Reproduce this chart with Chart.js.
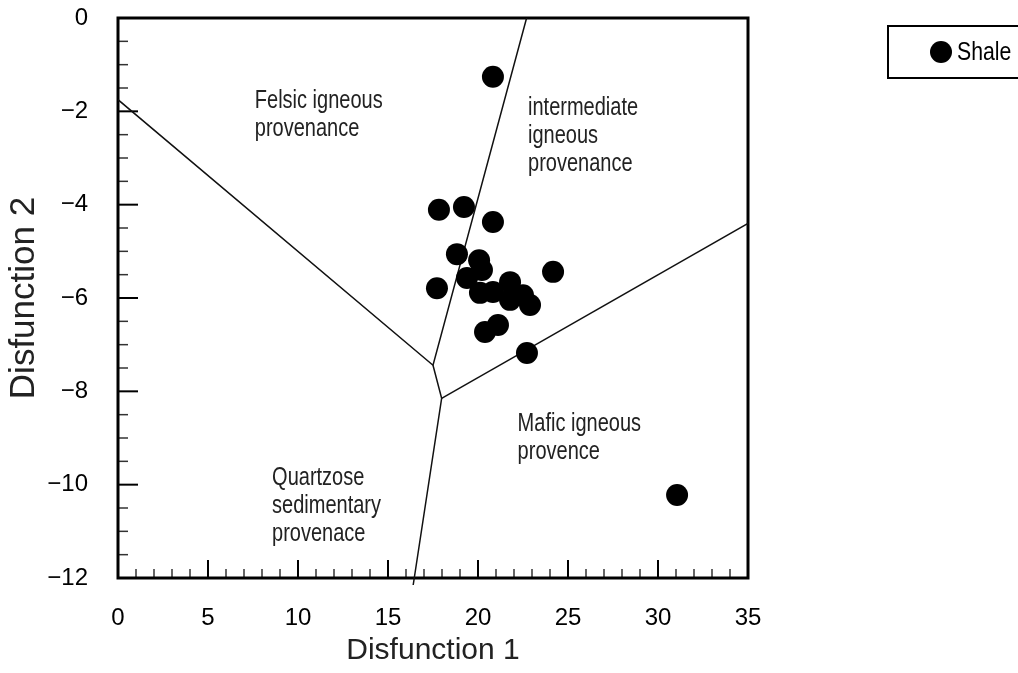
<!DOCTYPE html>
<html>
<head>
<meta charset="utf-8">
<script src="https://cdn.jsdelivr.net/npm/chart.js@4.4.0/dist/chart.umd.min.js"></script>
<style>
  html, body { margin: 0; padding: 0; background: #fff; }
  canvas { display: block; }
</style>
</head>
<body>
<canvas id="myChart" width="1018" height="673"></canvas>
<script>
Chart.defaults.font.family = '"Liberation Sans", Arial, Helvetica, sans-serif';
Chart.defaults.color = "#000";

// discriminant function scores of the shale samples
const shaleD1 = [20.83, 17.83, 19.22, 20.83, 18.83, 20.06, 20.22, 19.39, 17.72, 20.11,
                 20.83, 21.78, 21.78, 22.5, 22.89, 24.17, 20.39, 21.11, 22.72, 31.06];
const shaleD2 = [-1.26, -4.11, -4.05, -4.37, -5.06, -5.19, -5.4, -5.57, -5.79, -5.89,
                 -5.87, -5.66, -6.04, -5.94, -6.15, -5.44, -6.73, -6.58, -7.18, -10.22];

// field boundaries as [D1, D2] vertices
const boundaryFelsic = [[0, -1.75], [17.5, -7.44], [22.7, 0]];
const boundaryQuartz = [[17.5, -7.44], [17.98, -8.15], [16.4, -12.15]];
const boundaryMafic = [[17.98, -8.15], [35, -4.4]];

const xTicks = [0, 5, 10, 15, 20, 25, 30, 35];
const yTicks = [0, -2, -4, -6, -8, -10, -12];

// field names, anchored at the first baseline (D1, D2)
const fieldNames = [
  ["Felsic igneous", "provenance"],
  ["intermediate", "igneous", "provenance"],
  ["Mafic igneous", "provence"],
  ["Quartzose", "sedimentary", "provenace"],
];
const fieldX = [7.6, 22.78, 22.2, 8.56];
const fieldY = [-1.93, -2.08, -8.85, -10.0];

const FONT = '"Liberation Sans", Arial, Helvetica, sans-serif';

function boundary(pts, clip) {
  return {
    type: "line",
    data: pts.map(p => ({ x: p[0], y: p[1] })),
    showLine: true,
    borderColor: "#111",
    borderWidth: 1.5,
    pointRadius: 0,
    fill: false,
    tension: 0,
    clip: clip,
  };
}

const frame = {
  id: "frame",
  beforeDatasetsDraw(chart) {
    const { ctx, chartArea: a, scales: { x, y } } = chart;
    ctx.save();
    ctx.lineCap = "butt";

    // inward ticks on the bottom axis
    for (let v = 1; v < 35; v++) {
      const major = v % 5 === 0;
      const px = x.getPixelForValue(v);
      ctx.strokeStyle = major ? "#000" : "#333";
      ctx.lineWidth = major ? 2 : 1.5;
      ctx.beginPath();
      ctx.moveTo(px, a.bottom);
      ctx.lineTo(px, a.bottom - (major ? 18 : 9));
      ctx.stroke();
    }
    // inward ticks on the left axis
    for (let v = -11.5; v < 0; v += 0.5) {
      const major = v % 2 === 0;
      const py = y.getPixelForValue(v);
      ctx.strokeStyle = major ? "#000" : "#333";
      ctx.lineWidth = major ? 2 : 1.5;
      ctx.beginPath();
      ctx.moveTo(a.left, py);
      ctx.lineTo(a.left + (major ? 20 : 10), py);
      ctx.stroke();
    }

    ctx.strokeStyle = "#000";
    ctx.lineWidth = 3;
    ctx.strokeRect(a.left, a.top, a.right - a.left, a.bottom - a.top);

    // field names
    ctx.fillStyle = "#222";
    ctx.font = "25px " + FONT;
    ctx.textAlign = "left";
    ctx.textBaseline = "alphabetic";
    fieldNames.forEach((lines, i) => {
      const px = x.getPixelForValue(fieldX[i]);
      const py = y.getPixelForValue(fieldY[i]);
      lines.forEach((t, j) => {
        ctx.save();
        ctx.translate(px, py + j * 28);
        ctx.scale(0.8, 1);
        ctx.fillText(t, 0, 0);
        ctx.restore();
      });
    });
    ctx.restore();
  },
  afterDraw(chart) {
    const { ctx } = chart;
    const ds = chart.data.datasets[0];
    ctx.save();
    ctx.strokeStyle = "#000";
    ctx.lineWidth = 2;
    ctx.strokeRect(888, 26, 150, 52);
    ctx.fillStyle = "#000";
    ctx.beginPath();
    ctx.arc(941, 52, 11, 0, Math.PI * 2);
    ctx.fill();
    ctx.font = "25px " + FONT;
    ctx.textBaseline = "middle";
    ctx.translate(957, 53);
    ctx.scale(0.85, 1);
    ctx.fillText(ds.label, 0, 0);
    ctx.restore();
  },
};

const data = {
  datasets: [
    {
      type: "scatter",
      label: "Shale",
      data: shaleD1.map((v, i) => ({ x: v, y: shaleD2[i] })),
      backgroundColor: "#000",
      borderWidth: 0,
      pointRadius: 11,
      pointHoverRadius: 11,
    },
    boundary(boundaryFelsic, true),
    boundary(boundaryQuartz, false),
    boundary(boundaryMafic, true),
  ],
};

const config = {
  type: "scatter",
  data,
  plugins: [frame],
  options: {
    responsive: false,
    animation: false,
    events: [],
    layout: {
      padding: { top: 18, right: 270, left: 0, bottom: 0 },
    },
    plugins: {
      legend: { display: false },
      tooltip: { enabled: false },
    },
    scales: {
      x: {
        type: "linear",
        min: 0,
        max: 35,
        afterFit(scale) {
          scale.height = 95;
          scale.paddingLeft = 0;
          scale.paddingRight = 0;
        },
        afterBuildTicks(scale) { scale.ticks = xTicks.map(v => ({ value: v })); },
        grid: { display: false, drawTicks: false },
        border: { display: false },
        ticks: {
          padding: 26,
          font: { size: 24 },
          color: "#000",
        },
        title: {
          display: true,
          text: "Disfunction 1",
          color: "#222",
          font: { size: 30, lineHeight: 1 },
          padding: { top: 0, bottom: 7 },
        },
      },
      y: {
        type: "linear",
        min: -12,
        max: 0,
        afterFit(scale) {
          scale.width = 118;
          scale.paddingTop = 0;
          scale.paddingBottom = 0;
        },
        afterBuildTicks(scale) { scale.ticks = yTicks.map(v => ({ value: v })); },
        grid: { display: false, drawTicks: false },
        border: { display: false },
        ticks: {
          padding: 30,
          font: { size: 24 },
          color: "#000",
          callback: function (val) {
            return String(val).replace("-", "\u2212");
          },
        },
        title: {
          display: true,
          text: "Disfunction 2",
          color: "#222",
          font: { size: 35, lineHeight: 1 },
          padding: { top: 7, bottom: 0 },
        },
      },
    },
  },
};

const ctx = document.getElementById("myChart").getContext("2d");
new Chart(ctx, config);
</script>
</body>
</html>
